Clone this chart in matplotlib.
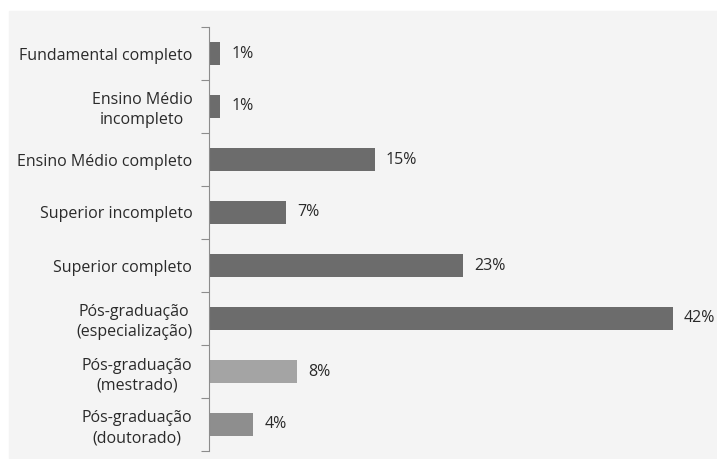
import matplotlib.pyplot as plt

# dados do gráfico (de cima para baixo)
categorias = ["Fundamental completo", "Ensino Médio\nincompleto", "Ensino Médio completo",
              "Superior incompleto", "Superior completo", "Pós-graduação\n(especialização)",
              "Pós-graduação\n(mestrado)", "Pós-graduação\n(doutorado)"]
valores = [1, 1, 15, 7, 23, 42, 8, 4]
rotulos = ["1%", "1%", "15%", "7%", "23%", "42%", "8%", "4%"]
cores = ["#6c6c6c"] * 6 + ["#a4a4a4", "#8e8e8e"]

plt.rcParams['font.family'] = ['Open Sans', 'DejaVu Sans']

fig = plt.figure(figsize=(7.17, 4.59), dpi=100)
fig.patch.set_facecolor("white")
# painel cinza claro de fundo
fig.patches.append(plt.Rectangle((9 / 717, 0.002), 1, (459 - 12) / 459,
                                 transform=fig.transFigure, color="#f4f4f4", zorder=-10))

ax = fig.add_axes([209 / 717, 8 / 459, 497 / 717, 424 / 459])
ax.set_facecolor("none")

pos = list(range(len(valores)))
ax.barh(pos, valores, height=0.42, color=cores, edgecolor="none")
for p, v, r in zip(pos, valores, rotulos):
    ax.text(v + 1.0, p, r, va="center", ha="left", fontsize=11.5, color="#2a2a2a")

ax.set_xlim(0, 45)
ax.set_ylim(len(valores) - 0.5, -0.5)
ax.set_yticks([p + 0.5 for p in [-1] + pos])
ax.set_yticklabels([])
ax.set_yticks(pos, minor=True)
ax.set_yticklabels(categorias, minor=True, fontsize=11.5, color="#2a2a2a", linespacing=1.3)
ax.tick_params(axis="y", which="major", length=6, color="#8c8c8c", direction="out")
ax.tick_params(axis="y", which="minor", length=0, pad=12)
for lab in ax.get_yticklabels(minor=True):
    lab.set_multialignment("center")
ax.set_xticks([])

for s in ["top", "right", "bottom"]:
    ax.spines[s].set_visible(False)
ax.spines["left"].set_color("#8c8c8c")

plt.savefig("out.png", dpi=100)
